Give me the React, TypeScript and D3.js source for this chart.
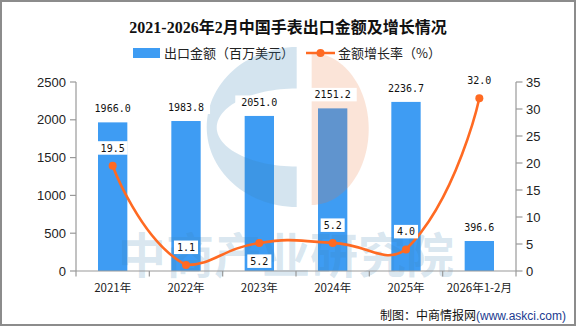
import React from "react";
import * as d3 from "d3";

const categories = ["2021年", "2022年", "2023年", "2024年", "2025年", "2026年1-2月"];
const exportValues = [1966.0, 1983.8, 2051.0, 2151.2, 2236.7, 396.6];
const growthRates = [19.5, 1.1, 5.2, 5.2, 4.0, 32.0];
const leftTicks = [0, 500, 1000, 1500, 2000, 2500];
const rightTicks = [0, 5, 10, 15, 20, 25, 30, 35];
const belowLabelCategories = ["2023年"];

const W = 576;
const H = 326;
const PLOT = { left: 76, right: 516, top: 82, bottom: 271 };
const BAR_COLOR = "#3e9cf3";
const LINE_COLOR = "#ff6a22";
const AXIS_COLOR = "#999999";
const MONO = "'DejaVu Sans Mono', 'Liberation Mono', monospace";
const SANS = "'Liberation Sans', Arial, 'Noto Sans CJK SC', sans-serif";
const CJK = "'Noto Sans CJK SC', 'Liberation Sans', sans-serif";

// ECharts(v4)-style smooth line path
function smoothPath(pts: [number, number][], smooth = 0.5): string {
  const p = d3.path();
  const xs = pts.map((d) => d[0]);
  const ys = pts.map((d) => d[1]);
  const minX = Math.min(...xs), maxX = Math.max(...xs);
  const minY = Math.min(...ys), maxY = Math.max(...ys);
  const clamp = (c: number[]) => [
    Math.max(minX, Math.min(maxX, c[0])),
    Math.max(minY, Math.min(maxY, c[1])),
  ];
  p.moveTo(pts[0][0], pts[0][1]);
  let cp0 = [pts[0][0], pts[0][1]];
  for (let i = 1; i < pts.length; i++) {
    const cur = pts[i];
    const prev = pts[i - 1];
    const next = pts[i + 1];
    let cp1: number[];
    let nextCp0: number[] = [cur[0], cur[1]];
    if (!next) {
      cp1 = [cur[0], cur[1]];
    } else {
      const vx = next[0] - prev[0];
      const vy = next[1] - prev[1];
      const lp = Math.hypot(cur[0] - prev[0], cur[1] - prev[1]);
      const ln = Math.hypot(next[0] - cur[0], next[1] - cur[1]);
      const r = ln / (ln + lp);
      cp1 = [cur[0] - vx * smooth * (1 - r), cur[1] - vy * smooth * (1 - r)];
      nextCp0 = [cur[0] + vx * smooth * r, cur[1] + vy * smooth * r];
    }
    const a = clamp(cp0);
    const b = clamp(cp1);
    p.bezierCurveTo(a[0], a[1], b[0], b[1], cur[0], cur[1]);
    cp0 = nextCp0;
  }
  return p.toString();
}

export default function App() {
  const xBand = d3.scaleBand<string>().domain(categories).range([PLOT.left, PLOT.right]).padding(0);
  const xBar = d3
    .scaleBand<string>()
    .domain(categories)
    .range([PLOT.left, PLOT.right])
    .paddingInner(0.6)
    .paddingOuter(0.3);
  const yL = d3.scaleLinear().domain([0, 2500]).range([PLOT.bottom, PLOT.top]);
  const yR = d3.scaleLinear().domain([0, 35]).range([PLOT.bottom, PLOT.top]);
  const cx = (c: string) => (xBand(c) as number) + xBand.bandwidth() / 2;

  const pts: [number, number][] = categories.map((c, i) => [cx(c), yR(growthRates[i])]);
  const linePath = smoothPath(pts, 0.5);

  const boundaries = categories.map((c) => xBand(c) as number).concat([PLOT.right]);

  const charW = 6.02;

  return (
    <svg
      width={W}
      height={H}
      viewBox={`0 0 ${W} ${H}`}
      style={{ position: "absolute", left: 0, top: 0, background: "#fff" }}
    >
      <rect x={0} y={0} width={W} height={H} fill="#ffffff" />
      <rect x={1} y={1} width={W - 2} height={H - 2} fill="none" stroke="#8c8c8c" strokeWidth={2} />

      {/* Title */}
      <text
        x={288}
        y={33}
        textAnchor="middle"
        fontFamily="'Liberation Serif', 'Noto Sans CJK SC', serif"
        fontWeight="bold"
        fontSize={16}
        fill="#111"
      >
        2021-2026年2月中国手表出口金额及增长情况
      </text>

      {/* Legend */}
      <rect x={133} y={48} width={27} height={10} fill={BAR_COLOR} />
      <text x={164} y={57.5} fontFamily={CJK} fontSize={13} fill="#222">
        出口金额（百万美元）
      </text>
      <line x1={306} x2={335} y1={53} y2={53} stroke={LINE_COLOR} strokeWidth={2.5} />
      <circle cx={320.5} cy={53} r={4} fill={LINE_COLOR} />
      <text x={338} y={57.5} fontFamily={CJK} fontSize={13} fill="#222">
        金额增长率（%）
      </text>

      {/* Bars */}
      {categories.map((c, i) => (
        <rect
          key={c}
          x={xBar(c) as number}
          y={yL(exportValues[i])}
          width={xBar.bandwidth()}
          height={PLOT.bottom - yL(exportValues[i])}
          fill={BAR_COLOR}
        />
      ))}

      {/* Watermark */}
      <g>
        <path
          d={(() => {
            const cxw = 296.7, cyw = 127;
            const p = d3.path();
            p.moveTo(cxw, cyw - 80);
            p.ellipse
              ? null
              : null;
            // outer left half ellipse
            const steps = 60;
            for (let k = 0; k <= steps; k++) {
              const t = -Math.PI / 2 - (Math.PI * k) / steps;
              p.lineTo(cxw + 90 * Math.cos(t), cyw + 80 * Math.sin(t));
            }
            p.lineTo(cxw, cyw + 39.5);
            for (let k = 0; k <= steps; k++) {
              const t = Math.PI / 2 + (Math.PI * k) / steps;
              p.lineTo(cxw + 80 * Math.cos(t), cyw + 0.5 + 39 * Math.sin(t));
            }
            p.closePath();
            return p.toString();
          })()}
          fill="rgb(60,130,180)"
          fillOpacity={0.22}
        />
        <path
          d={(() => {
            const cxw = 311.7, cyw = 129;
            const p = d3.path();
            const steps = 60;
            p.moveTo(cxw, cyw - 76);
            for (let k = 0; k <= steps; k++) {
              const t = -Math.PI / 2 + (Math.PI * k) / steps;
              p.lineTo(cxw + 57 * Math.cos(t), cyw + 76 * Math.sin(t));
            }
            p.closePath();
            return p.toString();
          })()}
          fill="rgb(235,120,60)"
          fillOpacity={0.2}
        />
        <text
          x={118}
          y={273}
          fontFamily="'Noto Sans CJK SC', sans-serif"
          fontWeight="bold"
          fontSize={48}
          fill="rgb(60,130,180)"
          fillOpacity={0.2}
        >
          中商产业研究院
        </text>
      </g>

      {/* Axes */}
      <line x1={PLOT.left} x2={PLOT.right} y1={PLOT.bottom} y2={PLOT.bottom} stroke={AXIS_COLOR} strokeWidth={1.2} />
      <line x1={PLOT.left} x2={PLOT.left} y1={PLOT.top} y2={PLOT.bottom} stroke={AXIS_COLOR} strokeWidth={1.2} />
      <line x1={PLOT.right} x2={PLOT.right} y1={PLOT.top} y2={PLOT.bottom} stroke={AXIS_COLOR} strokeWidth={1.2} />
      {boundaries.map((b, i) => (
        <line key={"xt" + i} x1={b} x2={b} y1={PLOT.bottom} y2={PLOT.bottom + 5.5} stroke={AXIS_COLOR} strokeWidth={1.2} />
      ))}
      {leftTicks.map((t) => (
        <g key={"l" + t}>
          <line x1={PLOT.left - 6} x2={PLOT.left} y1={yL(t)} y2={yL(t)} stroke={AXIS_COLOR} strokeWidth={1.2} />
          <text
            x={PLOT.left - 10}
            y={yL(t) + 4.5}
            textAnchor="end"
            fontFamily={SANS}
            fontSize={13}
            fill="#222"
          >
            {t}
          </text>
        </g>
      ))}
      {rightTicks.map((t) => (
        <g key={"r" + t}>
          <line x1={PLOT.right} x2={PLOT.right + 6.5} y1={yR(t)} y2={yR(t)} stroke={AXIS_COLOR} strokeWidth={1.2} />
          <text x={PLOT.right + 10} y={yR(t) + 4.5} fontFamily={SANS} fontSize={13} fill="#222">
            {t}
          </text>
        </g>
      ))}
      {categories.map((c) => (
        <text key={"xl" + c} x={cx(c)} y={291.5} textAnchor="middle" fontFamily={CJK} fontSize={11.5} fill="#222">
          {c}
        </text>
      ))}

      {/* Line */}
      <path d={linePath} fill="none" stroke={LINE_COLOR} strokeWidth={2.6} strokeLinejoin="round" />
      {pts.map((p, i) => (
        <circle key={"pt" + i} cx={p[0]} cy={p[1]} r={4} fill={LINE_COLOR} />
      ))}

      {/* Bar labels */}
      {categories.map((c, i) => {
        const s = exportValues[i].toFixed(1);
        const w = s.length * charW;
        const by = yL(exportValues[i]) - 10;
        return (
          <g key={"bl" + c}>
            <rect x={cx(c) - w / 2 - 6} y={by - 10.5} width={w + 12} height={13.5} fill="#fff" />
            <text x={cx(c)} y={by} textAnchor="middle" fontFamily={MONO} fontSize={10} fill="#111">
              {s}
            </text>
          </g>
        );
      })}

      {/* Line labels */}
      {categories.map((c, i) => {
        const s = growthRates[i].toFixed(1);
        const w = s.length * charW;
        const below = belowLabelCategories.includes(c);
        const by = below ? yR(growthRates[i]) + 22 : yR(growthRates[i]) - 14;
        return (
          <g key={"ll" + c}>
            <rect x={cx(c) - w / 2 - 3} y={by - 10.5} width={w + 6} height={13.5} fill="#fff" />
            <text x={cx(c)} y={by} textAnchor="middle" fontFamily={MONO} fontSize={10} fill="#111">
              {s}
            </text>
          </g>
        );
      })}

      {/* Source */}
      <text x={566} y={320} textAnchor="end" fontFamily={CJK} fontSize={12}>
        <tspan fill="#111">制图：中商情报网</tspan>
        <tspan fill="#1a3a8f" fontFamily={SANS} fontSize={12}>(www.askci.com)</tspan>
      </text>
    </svg>
  );
}
